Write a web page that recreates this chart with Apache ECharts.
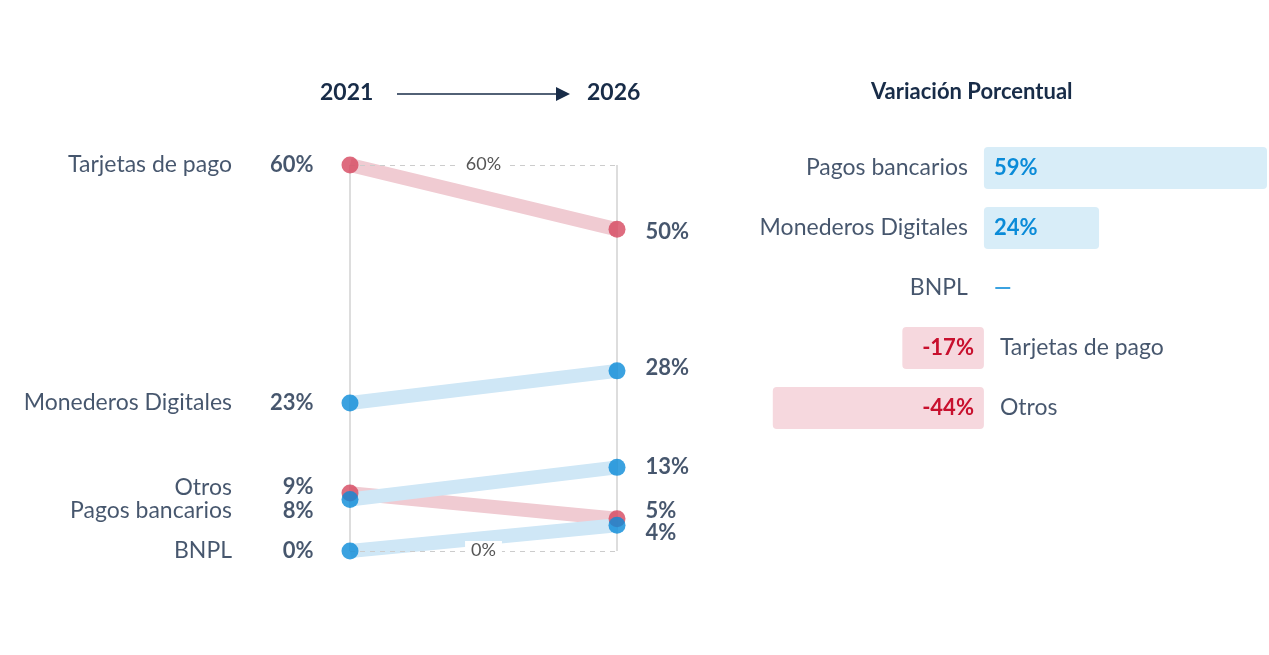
<!DOCTYPE html>
<html><head><meta charset="utf-8">
<script src="https://cdn.jsdelivr.net/npm/echarts@6/dist/echarts.min.js"></script>
<style>html,body{margin:0;padding:0;background:#fff}#c{width:1269px;height:655px}</style>
</head><body><div id="c"></div>
<script>
const years = ['2021', '2026'];
const names = ['Tarjetas de pago', 'Monederos Digitales', 'Otros', 'Pagos bancarios', 'BNPL'];
const v2021 = [60, 23, 9, 8, 0];
const v2026 = [50, 28, 5, 13, 4];
const isRed = [true, false, true, false, false];
const leftOff = [0, 0, -6, 11, 0];
const rightOff = [3, -3, -8, 0, 8];
const barCats = ['Pagos bancarios', 'Monederos Digitales', 'BNPL', 'Tarjetas de pago', 'Otros'];
const barVals = [59, 24, 0, -17, -44];

const F = 'Lato, "Open Sans", sans-serif';
const NAVY = '#182c48';
const series = [];
// dashed reference lines (drawn beneath)
series.push({
  type: 'line', xAxisIndex: 0, yAxisIndex: 0, data: [], silent: true, z: 1,
  markLine: { symbol: 'none', lineStyle: { type: [5, 5], color: '#cccccc', width: 1 },
    label: { position: 'middle', offset: [0, 13], color: '#555', fontSize: 18, fontFamily: F, backgroundColor: '#fff', padding: [0, 6], formatter: p => p.value + '%' },
    data: [{ yAxis: 60 }, { yAxis: 0 }] }
});
names.forEach((n, i) => {
  const red = isRed[i];
  series.push({
    type: 'line', xAxisIndex: 0, yAxisIndex: 0, z: 3,
    data: [v2021[i], v2026[i]], symbol: 'none',
    lineStyle: { width: 14, color: red ? '#f0cbd2' : '#cfe7f6' }, silent: true
  });
  series.push({
    type: 'scatter', xAxisIndex: 0, yAxisIndex: 0, z: 5, symbolSize: 17,
    itemStyle: { color: red ? '#d6475f' : '#0a8bd8' },
    data: [
      { value: [0, v2021[i]], label: { show: true, position: 'left', distance: 28, offset: [0, leftOff[i]], formatter: v2021[i] + '%', color: NAVY, fontWeight: 'bold', fontSize: 22, fontFamily: F } },
      { value: [1, v2026[i]], label: { show: true, position: 'right', distance: 20, offset: [0, rightOff[i]], formatter: v2026[i] + '%', color: NAVY, fontWeight: 'bold', fontSize: 22, fontFamily: F } }
    ]
  });
  series.push({
    type: 'scatter', xAxisIndex: 0, yAxisIndex: 0, symbolSize: 0, silent: true,
    data: [{ value: [0, v2021[i]], label: { show: true, position: 'left', distance: 118, offset: [0, leftOff[i]], formatter: n, color: NAVY, fontSize: 23, fontFamily: F } }]
  });
});
// bars
series.push({
  type: 'bar', xAxisIndex: 1, yAxisIndex: 1, barWidth: 42,
  data: barVals.map(v => ({
    value: v,
    itemStyle: { color: v >= 0 ? '#d8edf8' : '#f6d8de', borderRadius: 4 },
    label: { show: v !== 0, position: v >= 0 ? 'insideLeft' : 'insideRight', distance: 10, formatter: v + '%', color: v >= 0 ? '#0a8bd8' : '#c8102e', fontWeight: 'bold', fontSize: 22, fontFamily: F }
  }))
});
series.push({
  type: 'scatter', xAxisIndex: 1, yAxisIndex: 1, symbolSize: 0, silent: true,
  data: barVals.map((v, i) => ({
    value: [0, barCats[i]],
    label: { show: true, position: v >= 0 ? 'left' : 'right', distance: 16, formatter: barCats[i], color: NAVY, fontSize: 23, fontFamily: F }
  })).concat([{ value: [0, 'BNPL'], label: { show: true, position: 'right', distance: 10, formatter: '—', color: '#0a8bd8', fontWeight: 'bold', fontSize: 22, fontFamily: F } }])
});

const chart = echarts.init(document.getElementById('c'));
chart.setOption({
  animation: false,
  grid: [
    { left: 350, right: 652, top: 165, bottom: 104 },
    { left: 768, right: 2, top: 138, bottom: 217 }
  ],
  xAxis: [
    { type: 'category', data: years, boundaryGap: false, gridIndex: 0, axisLine: { show: false }, axisTick: { show: false }, axisLabel: { show: false },
      splitLine: { show: true, lineStyle: { color: '#dddddd', width: 2 } } },
    { type: 'value', min: -45, max: 59, gridIndex: 1, show: false }
  ],
  yAxis: [
    { type: 'value', min: 0, max: 60, gridIndex: 0, show: false },
    { type: 'category', data: barCats, inverse: true, gridIndex: 1, show: false }
  ],
  graphic: [
    { type: 'text', left: 320, top: 81, style: { text: '2021', font: 'bold 23px ' + F, fill: NAVY } },
    { type: 'text', left: 587, top: 81, style: { text: '2026', font: 'bold 23px ' + F, fill: NAVY } },
    { type: 'line', shape: { x1: 397, y1: 94, x2: 560, y2: 94 }, style: { stroke: NAVY, lineWidth: 1.5 } },
    { type: 'polygon', shape: { points: [[556, 87], [570, 94], [556, 101]] }, style: { fill: NAVY } },
    { type: 'text', left: 871, top: 81, style: { text: 'Variación Porcentual', font: 'bold 22px ' + F, fill: NAVY } }
  ],
  series
});
</script></body></html>
